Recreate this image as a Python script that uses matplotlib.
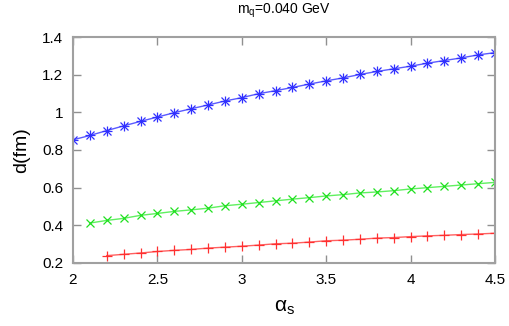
import numpy as np
import matplotlib
matplotlib.use("Agg")
import matplotlib.pyplot as plt

plt.rcParams['font.family'] = ['Liberation Sans', 'DejaVu Sans']
plt.rcParams['mathtext.fontset'] = 'custom'
plt.rcParams['mathtext.rm'] = 'Liberation Sans'
plt.rcParams['mathtext.it'] = 'Liberation Sans'

# alpha_s values and d(fm) for the three curves
alpha_blue = [2.0, 2.1, 2.2, 2.3, 2.4, 2.5, 2.6, 2.7, 2.8, 2.9, 3.0, 3.1, 3.2,
              3.3, 3.4, 3.5, 3.6, 3.7, 3.8, 3.9, 4.0, 4.1, 4.2, 4.3, 4.4, 4.5]
d_blue = [0.854, 0.877, 0.903, 0.928, 0.952, 0.975, 0.998, 1.019, 1.039, 1.060,
          1.078, 1.099, 1.115, 1.132, 1.150, 1.167, 1.183, 1.201, 1.217, 1.231,
          1.245, 1.261, 1.275, 1.289, 1.305, 1.317]

alpha_green = [2.1, 2.2, 2.3, 2.4, 2.5, 2.6, 2.7, 2.8, 2.9, 3.0, 3.1, 3.2,
               3.3, 3.4, 3.5, 3.6, 3.7, 3.8, 3.9, 4.0, 4.1, 4.2, 4.3, 4.4, 4.5]
d_green = [0.412, 0.426, 0.437, 0.453, 0.463, 0.474, 0.482, 0.491, 0.504, 0.512,
           0.521, 0.530, 0.539, 0.547, 0.556, 0.563, 0.572, 0.577, 0.584, 0.593,
           0.600, 0.607, 0.614, 0.621, 0.628]

alpha_red = [2.2, 2.3, 2.4, 2.5, 2.6, 2.7, 2.8, 2.9, 3.0, 3.1, 3.2,
             3.3, 3.4, 3.5, 3.6, 3.7, 3.8, 3.9, 4.0, 4.1, 4.2, 4.3, 4.4, 4.5]
d_red = [0.239, 0.246, 0.253, 0.261, 0.267, 0.272, 0.279, 0.284, 0.289, 0.295,
         0.302, 0.305, 0.311, 0.318, 0.321, 0.326, 0.332, 0.335, 0.340, 0.344,
         0.347, 0.351, 0.354, 0.358]

xticks = [2, 2.5, 3, 3.5, 4, 4.5]
xticklabels = ['2', '2.5', '3', '3.5', '4', '4.5']
yticks = [0.2, 0.4, 0.6, 0.8, 1.0, 1.2, 1.4]
yticklabels = ['0.2', '0.4', '0.6', '0.8', '1', '1.2', '1.4']

fig = plt.figure(figsize=(5.1, 3.26), dpi=100)
ax = fig.add_axes([0.1431, 0.1933, 0.8275, 0.6932])

# blue: gnuplot-style asterisk = plus + cross
ax.plot(alpha_blue, d_blue, color='#5a5aff', lw=1.0)
ax.plot(alpha_blue, d_blue, ls='none', marker='+', ms=7, mew=0.9, color='#3030ff')
ax.plot(alpha_blue, d_blue, ls='none', marker='x', ms=5.5, mew=0.9, color='#3030ff')

ax.plot(alpha_green, d_green, color='#60f060', lw=1.0)
ax.plot(alpha_green, d_green, ls='none', marker='x', ms=6, mew=0.9, color='#20e020')

ax.plot(alpha_red, d_red, color='#ff6060', lw=1.0)
ax.plot(alpha_red, d_red, ls='none', marker='+', ms=7, mew=0.9, color='#ff3030')

ax.set_xlim(2, 4.5)
ax.set_ylim(0.2, 1.4)
ax.set_xticks(xticks)
ax.set_xticklabels(xticklabels)
ax.set_yticks(yticks)
ax.set_yticklabels(yticklabels)
ax.tick_params(direction='in', length=6, width=1, color='#909090',
               top=True, right=True, labelsize=11, pad=7)

for sp in ax.spines.values():
    sp.set_color('#a0a0a0')
    sp.set_linewidth(1.5)

ax.set_title(r'm$_\mathrm{q}$=0.040 GeV', fontsize=10, pad=17)
ax.set_ylabel('d(fm)', fontsize=14, labelpad=9)
ax.set_xlabel(r'$\alpha_\mathrm{s}$', fontsize=15, labelpad=8)

fig.savefig('out.png', dpi=100)
